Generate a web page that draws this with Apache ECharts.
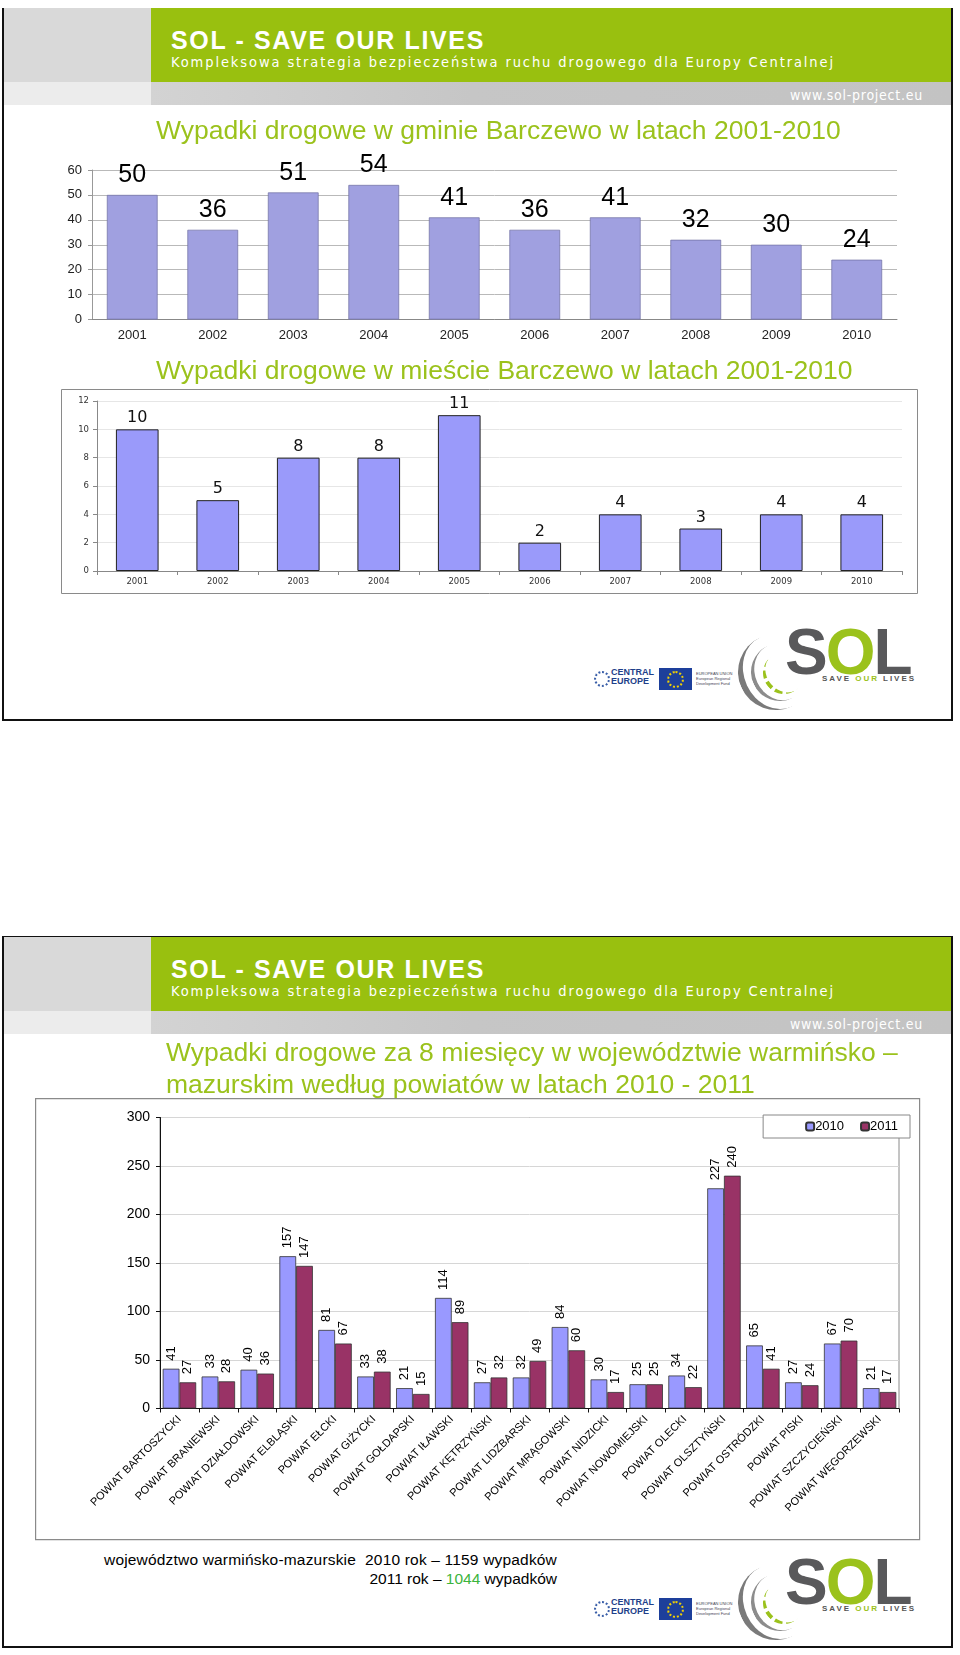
<!DOCTYPE html>
<html><head><meta charset="utf-8">
<script src="https://cdn.jsdelivr.net/npm/echarts@6/dist/echarts.min.js"></script>
<style>
html,body{margin:0;padding:0;background:#fff;}
body{width:960px;height:1655px;position:relative;overflow:hidden;font-family:"Liberation Sans",Arial,sans-serif;}
.a{position:absolute;white-space:nowrap;}
.slide{position:absolute;left:2px;width:951px;border:2px solid #111;box-sizing:border-box;background:#fff;}
.hdrT{color:#fff;font-family:"Liberation Sans",Arial,sans-serif;font-weight:bold;font-size:25px;line-height:28px;}
.hdrS{color:#fff;font-family:"Liberation Sans Narrow","DejaVu Sans Condensed",sans-serif;font-size:14.5px;line-height:17px;}
.www{color:#fff;font-family:"Liberation Sans Narrow","DejaVu Sans Condensed",sans-serif;font-size:14px;line-height:16px;}
.chart{position:absolute;left:0;width:960px;}
.sol{font-family:"Liberation Sans",Arial,sans-serif;font-weight:bold;font-size:64px;line-height:64px;letter-spacing:-2px;color:#59595b;}
.arc{position:absolute;border-radius:50%;border-color:transparent;box-sizing:border-box;}
</style>
</head><body>

<div class="slide" id="s1" style="top:8px;height:713px;"></div>
<div class="slide" id="s2" style="top:936px;height:712px;"></div>

<div id="c1" class="chart" style="top:110px;height:240px;"></div>
<div id="c2" class="chart" style="top:350px;height:250px;"></div>
<div id="c3" class="chart" style="top:1035px;height:510px;"></div>

<div class="a" id="sum1" style="font-size:15.5px;line-height:18px;color:#000;top:1551px;left:104px;">województwo warmińsko-mazurskie&nbsp; 2010 rok – 1159 wypadków</div>
<div class="a" id="sum2" style="font-size:15.5px;line-height:18px;color:#000;top:1570px;right:403px;">2011 rok – <span style="color:#3cb43c">1044</span> wypadków</div>

<script>
// ---------- data ----------
const years = ['2001','2002','2003','2004','2005','2006','2007','2008','2009','2010'];
const gminaValues = [50, 36, 51, 54, 41, 36, 41, 32, 30, 24];
const miastoValues = [10, 5, 8, 8, 11, 2, 4, 3, 4, 4];
const powiaty = ['POWIAT BARTOSZYCKI','POWIAT BRANIEWSKI','POWIAT DZIAŁDOWSKI','POWIAT ELBLĄSKI','POWIAT EŁCKI','POWIAT GIŻYCKI','POWIAT GOŁDAPSKI','POWIAT IŁAWSKI','POWIAT KĘTRZYŃSKI','POWIAT LIDZBARSKI','POWIAT MRĄGOWSKI','POWIAT NIDZICKI','POWIAT NOWOMIEJSKI','POWIAT OLECKI','POWIAT OLSZTYŃSKI','POWIAT OSTRÓDZKI','POWIAT PISKI','POWIAT SZCZYCIEŃSKI','POWIAT WĘGORZEWSKI'];
const values2010 = [41, 33, 40, 157, 81, 33, 21, 114, 27, 32, 84, 30, 25, 34, 227, 65, 27, 67, 21];
const values2011 = [27, 28, 36, 147, 67, 38, 15, 89, 32, 49, 60, 17, 25, 22, 240, 41, 24, 70, 17];
const seriesNames = ['2010', '2011'];
const title1 = 'Wypadki drogowe w gminie Barczewo w latach 2001-2010';
const title2 = 'Wypadki drogowe w mieście Barczewo w latach 2001-2010';
const title3 = 'Wypadki drogowe za 8 miesięcy w województwie warmińsko –\nmazurskim według powiatów w latach 2010 - 2011';

const GREEN = '#9bc21c';

// ---------- decorations (headers / logos) ----------
function el(html, style, cls){
  const d = document.createElement('div');
  d.className = 'a ' + (cls||'');
  d.innerHTML = html;
  Object.assign(d.style, style);
  document.body.appendChild(d);
  return d;
}
function fit(d, w){
  d.style.letterSpacing = '0px';
  const nat = d.getBoundingClientRect().width;
  const n = d.textContent.length;
  d.style.letterSpacing = ((w - nat) / n) + 'px';
}
function header(T){
  el('', {left:'4px', top:(T)+'px', width:'147px', height:'74px', background:'#d9d9d9'});
  el('', {left:'4px', top:(T+74)+'px', width:'147px', height:'23px', background:'#ececec'});
  el('', {left:'151px', top:(T)+'px', width:'800px', height:'74px', background:'#99c00f'});
  el('', {left:'151px', top:(T+74)+'px', width:'800px', height:'23px', background:'linear-gradient(90deg,#d3d3d3,#c6c6c6 40%,#c3c3c3)'});
  const t = el('SOL - SAVE OUR LIVES', {left:'171px', top:(T+18)+'px'}, 'hdrT'); fit(t, 314);
  const s = el('Kompleksowa strategia bezpieczeństwa ruchu drogowego dla Europy Centralnej', {left:'171px', top:(T+46)+'px'}, 'hdrS'); fit(s, 664);
  const w = el('www.sol-project.eu', {left:'790px', top:(T+79)+'px'}, 'www'); fit(w, 133);
}
function logos(T){
  // Central Europe logo
  el('', {left:'594px', top:(T+671)+'px', width:'12px', height:'12px', border:'2px dotted #3a5fa8', borderRadius:'50%'});
  el('CENTRAL<br>EUROPE', {left:'611px', top:(T+668)+'px', fontSize:'9px', lineHeight:'9px', fontWeight:'bold', color:'#1f3f8a'});
  // EU flag
  el('', {left:'659px', top:(T+668)+'px', width:'33px', height:'22px', background:'#1d3f9b'});
  el('', {left:'667px', top:(T+671)+'px', width:'13px', height:'13px', border:'2px dotted #f2d200', borderRadius:'50%'});
  el('EUROPEAN UNION<br>European Regional<br>Development Fund', {left:'696px', top:(T+671)+'px', fontSize:'4px', lineHeight:'5px', color:'#445'});
  // swooshes
  el('', {left:'738px', top:(T+634)+'px', width:'76px', height:'76px', borderStyle:'solid', borderWidth:'0 0 0 6px', borderLeftColor:'#7a7a7a', transform:'rotate(-25deg)'}, 'arc');
  el('', {left:'751px', top:(T+643)+'px', width:'58px', height:'58px', borderStyle:'solid', borderWidth:'0 0 0 4px', borderLeftColor:'#8c8c8c', transform:'rotate(-25deg)'}, 'arc');
  el('', {left:'763px', top:(T+652)+'px', width:'42px', height:'42px', borderStyle:'dashed', borderWidth:'0 0 0 4px', borderLeftColor:'#9bc21c', transform:'rotate(-40deg)'}, 'arc');
  // SOL
  el('S<span style="color:#9bc21c">O</span>L', {left:'785px', top:(T+620)+'px'}, 'sol');
  const sv = el('SAVE <span style="color:#9bc21c">OUR</span> LIVES', {left:'822px', top:(T+674)+'px', fontSize:'8px', lineHeight:'9px', fontWeight:'bold', color:'#555'});
  fit(sv, 94);
}
header(8); header(937);
logos(0); logos(930);
fit(document.getElementById('sum1'), 453);

// ---------- chart 1 ----------
const ch1 = echarts.init(document.getElementById('c1'), null, {renderer:'canvas'});
ch1.setOption({
  animation:false,
  title:{text:title1, left:156, top:8, padding:0, textStyle:{fontFamily:'Liberation Sans', fontSize:26.5, fontWeight:'normal', color:GREEN}},
  grid:{left:92, right:63, top:60, bottom:30.5},
  xAxis:{type:'category', data:years, axisTick:{show:false}, axisLine:{lineStyle:{color:'#888'}},
         axisLabel:{fontFamily:'Liberation Sans', fontSize:13, color:'#222', margin:9}},
  yAxis:{type:'value', min:0, max:60, interval:10, axisLine:{show:true, lineStyle:{color:'#999'}},
         axisTick:{show:true, length:4, lineStyle:{color:'#999'}},
         splitLine:{lineStyle:{color:'#b9b9b9'}},
         axisLabel:{fontFamily:'Liberation Sans', fontSize:13, color:'#222', margin:10}},
  series:[{type:'bar', data:gminaValues, barWidth:'63%',
    itemStyle:{color:'#a0a0e0', borderColor:'#6e6ea0', borderWidth:0.7},
    label:{show:true, position:'top', distance:7, fontFamily:'Liberation Sans', fontSize:25, color:'#000'}}]
});

// ---------- chart 2 ----------
const ch2 = echarts.init(document.getElementById('c2'), null, {renderer:'canvas'});
ch2.setOption({
  animation:false,
  title:{text:title2, left:156, top:8, padding:0, textStyle:{fontFamily:'Liberation Sans', fontSize:26.5, fontWeight:'normal', color:GREEN}},
  graphic:[{type:'rect', left:61, top:39, z:-10, shape:{width:856, height:204}, style:{fill:'#fff', stroke:'#8a8a8a', lineWidth:1}}],
  grid:{left:97, right:58, top:51, bottom:29},
  xAxis:{type:'category', data:years, axisTick:{show:true, length:4, lineStyle:{color:'#888'}}, axisLine:{lineStyle:{color:'#888'}},
         axisLabel:{fontFamily:'DejaVu Sans', fontSize:8.5, color:'#333', margin:6}},
  yAxis:{type:'value', min:0, max:12, interval:2, axisLine:{show:true, lineStyle:{color:'#888'}},
         axisTick:{show:true, length:4, lineStyle:{color:'#888'}},
         splitLine:{lineStyle:{color:'#e6e6e6'}},
         axisLabel:{fontFamily:'DejaVu Sans', fontSize:8.5, color:'#333', margin:8}},
  series:[{type:'bar', data:miastoValues, barWidth:'53%',
    itemStyle:{color:'#9a9afa', borderColor:'#222', borderWidth:1},
    label:{show:true, position:'top', distance:3, fontFamily:'DejaVu Sans', fontSize:16, color:'#111'}}]
});

// ---------- chart 3 ----------
const ch3 = echarts.init(document.getElementById('c3'), null, {renderer:'canvas'});
const lbl = {show:true, position:'top', rotate:90, align:'left', verticalAlign:'middle', distance:8,
             fontFamily:'Liberation Sans', fontSize:13, color:'#000'};
ch3.setOption({
  animation:false,
  title:{text:title3, left:166, top:3, padding:0, textStyle:{fontFamily:'Liberation Sans', fontSize:26.5, lineHeight:31.5, fontWeight:'normal', color:GREEN}},
  graphic:[{type:'rect', left:35, top:63, z:-10, shape:{width:884, height:441}, style:{fill:'#fff', stroke:'#8a8a8a', lineWidth:1.2}}],
  legend:{data:seriesNames, right:50, top:80, orient:'horizontal', backgroundColor:'#fff', borderColor:'#888', borderWidth:1,
          padding:[5,12,5,42], itemWidth:8, itemHeight:8, itemGap:16,
          textStyle:{fontFamily:'Liberation Sans', fontSize:13, color:'#000', padding:[0,0,0,-4]}},
  grid:{left:160, right:61, top:82.5, bottom:136.5, show:true, borderColor:'#8a8a8a', borderWidth:1, backgroundColor:'transparent'},
  xAxis:{type:'category', data:powiaty, axisLine:{lineStyle:{color:'#111'}},
         axisTick:{show:true, length:4, lineStyle:{color:'#111'}},
         axisLabel:{interval:0, rotate:45, fontFamily:'Liberation Sans', fontSize:11, color:'#000', margin:9}},
  yAxis:{type:'value', min:0, max:300, interval:50, axisLine:{show:true, lineStyle:{color:'#111'}},
         axisTick:{show:true, length:4, lineStyle:{color:'#111'}},
         splitLine:{lineStyle:{color:'#d6d6d6'}},
         axisLabel:{fontFamily:'Liberation Sans', fontSize:14, color:'#000', margin:10}},
  series:[
    {name:seriesNames[0], type:'bar', data:values2010, barGap:'0%', barCategoryGap:'14%',
     itemStyle:{color:'#9999ff', borderColor:'#333', borderWidth:0.8}, label:lbl},
    {name:seriesNames[1], type:'bar', data:values2011, barGap:'0%', barCategoryGap:'14%',
     itemStyle:{color:'#993366', borderColor:'#333', borderWidth:0.8}, label:lbl}
  ]
});
</script>
</body></html>
